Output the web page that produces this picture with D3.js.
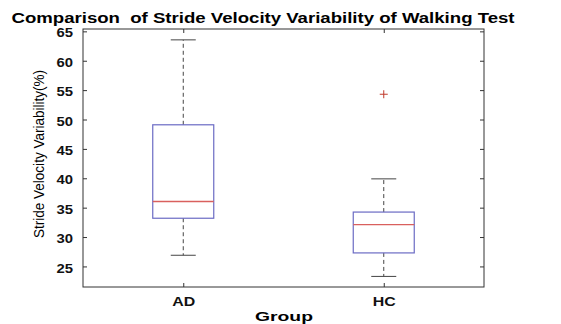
<!DOCTYPE html>
<html>
<head>
<meta charset="utf-8">
<script src="https://cdn.jsdelivr.net/npm/d3@7"></script>
<style>
  body { margin: 0; background: #fff; }
  text { font-family: "Liberation Sans", Arial, sans-serif; }
</style>
</head>
<body>
<div id="chart"></div>
<script>
// data
var groups = ["AD", "HC"];
var whiskerLow = [26.9, 23.3];
var q1 = [33.2, 27.3];
var medians = [36.05, 32.1];
var q3 = [49.1, 34.25];
var whiskerHigh = [63.55, 39.9];
var outliers = [[], [54.3]];
var yTicks = [25, 30, 35, 40, 45, 50, 55, 60, 65];

var width = 561, height = 324;
var margin = {top: 29, right: 77, bottom: 37, left: 83};
var w = width - margin.left - margin.right,
    h = height - margin.top - margin.bottom;

var svg = d3.select("#chart").append("svg")
    .attr("width", width)
    .attr("height", height);

var g = svg.append("g")
    .attr("transform", "translate(" + margin.left + "," + margin.top + ")");

var x = d3.scaleLinear().domain([0.5, 2.5]).range([0, w]);
var y = d3.scaleLinear().domain([21.5, 65.4]).range([h, 0]);

// box frame
g.append("rect")
    .attr("x", 0).attr("y", 0)
    .attr("width", w).attr("height", h)
    .attr("fill", "none")
    .attr("stroke", "#333")
    .attr("stroke-width", 1);

// axes with inside ticks
var xIdx = groups.map(function(d, i) { return i + 1; });
g.append("g")
    .attr("transform", "translate(0," + h + ")")
    .call(d3.axisBottom(x).tickValues(xIdx).tickSizeInner(-4).tickSizeOuter(0).tickPadding(10)
        .tickFormat(function(d) { return groups[d - 1]; }))
    .call(function(a) {
        a.select(".domain").remove();
        a.selectAll("line").attr("stroke", "#333");
        a.selectAll("text").attr("font-size", 12).attr("font-weight", "bold").attr("fill", "#111")
            .attr("textLength", 23).attr("lengthAdjust", "spacingAndGlyphs");
    });
g.append("g")
    .call(d3.axisTop(x).tickValues(xIdx).tickSizeInner(-4).tickSizeOuter(0).tickFormat(""))
    .call(function(a) { a.select(".domain").remove(); a.selectAll("line").attr("stroke", "#333"); });

g.append("g")
    .call(d3.axisLeft(y).tickValues(yTicks).tickSizeInner(-4).tickSizeOuter(0).tickPadding(10))
    .call(function(a) {
        a.select(".domain").remove();
        a.selectAll("line").attr("stroke", "#333");
        a.selectAll("text").attr("font-size", 12.5).attr("font-weight", "bold").attr("fill", "#111")
            .attr("dy", "0.45em")
            .attr("textLength", 16.5).attr("lengthAdjust", "spacingAndGlyphs");
    });
g.append("g")
    .attr("transform", "translate(" + w + ",0)")
    .call(d3.axisRight(y).tickValues(yTicks).tickSizeInner(-4).tickSizeOuter(0).tickFormat(""))
    .call(function(a) { a.select(".domain").remove(); a.selectAll("line").attr("stroke", "#333"); });

// boxplots
var boxW = 61, capW = 25;
var boxes = g.selectAll(".box").data(groups).enter().append("g").attr("class", "box");

boxes.append("line")
    .attr("x1", function(d, i) { return x(i + 1); })
    .attr("x2", function(d, i) { return x(i + 1); })
    .attr("y1", function(d, i) { return y(q3[i]); })
    .attr("y2", function(d, i) { return y(whiskerHigh[i]); })
    .attr("stroke", "#444").attr("stroke-dasharray", "4,3");
boxes.append("line")
    .attr("x1", function(d, i) { return x(i + 1); })
    .attr("x2", function(d, i) { return x(i + 1); })
    .attr("y1", function(d, i) { return y(q1[i]); })
    .attr("y2", function(d, i) { return y(whiskerLow[i]); })
    .attr("stroke", "#444").attr("stroke-dasharray", "4,3");

[whiskerHigh, whiskerLow].forEach(function(arr) {
    boxes.append("line")
        .attr("x1", function(d, i) { return x(i + 1) - capW / 2; })
        .attr("x2", function(d, i) { return x(i + 1) + capW / 2; })
        .attr("y1", function(d, i) { return y(arr[i]); })
        .attr("y2", function(d, i) { return y(arr[i]); })
        .attr("stroke", "#444");
});

boxes.append("rect")
    .attr("x", function(d, i) { return x(i + 1) - boxW / 2; })
    .attr("y", function(d, i) { return y(q3[i]); })
    .attr("width", boxW)
    .attr("height", function(d, i) { return y(q1[i]) - y(q3[i]); })
    .attr("fill", "none")
    .attr("stroke", "#6b6bc4")
    .attr("stroke-width", 1.2);

boxes.append("line")
    .attr("x1", function(d, i) { return x(i + 1) - boxW / 2; })
    .attr("x2", function(d, i) { return x(i + 1) + boxW / 2; })
    .attr("y1", function(d, i) { return y(medians[i]); })
    .attr("y2", function(d, i) { return y(medians[i]); })
    .attr("stroke", "#d9605e")
    .attr("stroke-width", 1.3);

boxes.each(function(d, i) {
    d3.select(this).selectAll(".out").data(outliers[i]).enter().append("path")
        .attr("class", "out")
        .attr("d", function(v) {
            var cx = x(i + 1), cy = y(v);
            return "M" + (cx - 4) + "," + cy + "H" + (cx + 4) + "M" + cx + "," + (cy - 4) + "V" + (cy + 4);
        })
        .attr("stroke", "#c0392b")
        .attr("stroke-width", 1);
});

// titles
svg.append("text")
    .attr("x", 263).attr("y", 23)
    .attr("text-anchor", "middle")
    .attr("font-size", 14).attr("font-weight", "bold")
    .attr("textLength", 503).attr("lengthAdjust", "spacingAndGlyphs")
    .style("white-space", "pre")
    .text("Comparison  of Stride Velocity Variability of Walking Test");

svg.append("text")
    .attr("x", 284).attr("y", 321)
    .attr("text-anchor", "middle")
    .attr("font-size", 13.5).attr("font-weight", "bold")
    .attr("textLength", 58).attr("lengthAdjust", "spacingAndGlyphs")
    .text("Group");

svg.append("text")
    .attr("transform", "translate(44," + 154 + ") rotate(-90)")
    .attr("text-anchor", "middle")
    .attr("font-size", 15)
    .attr("textLength", 168).attr("lengthAdjust", "spacingAndGlyphs")
    .text("Stride Velocity Variability(%)");
</script>
</body>
</html>
